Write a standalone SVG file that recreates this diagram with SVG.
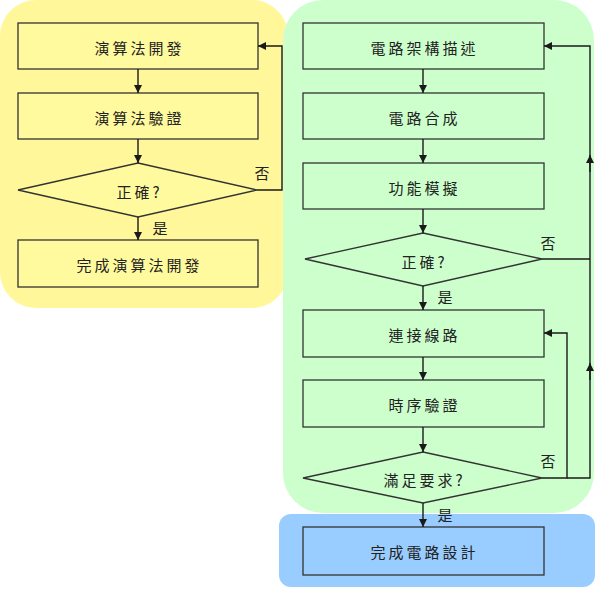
<svg xmlns="http://www.w3.org/2000/svg" width="600" height="589" viewBox="0 0 600 589">
<defs>
<marker id="arr" viewBox="0 0 10 10" refX="10" refY="5" markerWidth="8" markerHeight="8" markerUnits="userSpaceOnUse" orient="auto">
<path d="M0,0 L10,5 L0,10 z" fill="#1a1a1a"/>
</marker>
<style>
.box{stroke:#333;stroke-width:1.3}
.y{fill:#FFFA9E}
.g{fill:#CCFFCC}
.b{fill:#99CCFF}
.t{font-family:"Noto Sans CJK TC","Noto Sans CJK SC",sans-serif;font-size:15px;letter-spacing:3px;fill:#222;text-anchor:middle;dominant-baseline:central}
.c{fill:none;stroke:#1a1a1a;stroke-width:1.4}
.a{marker-end:url(#arr)}
</style>
</defs>
<rect x="0" y="0" width="600" height="589" fill="#fff"/>
<g id="regions">
<rect x="0" y="0" width="288" height="308" rx="36" ry="36" fill="#FFF79A"/>
<rect x="283" y="0" width="311" height="513" rx="40" ry="40" fill="#CCFFCC"/>
<rect x="279" y="514" width="316" height="73" rx="12" ry="12" fill="#99CCFF"/>
</g>
<g id="n1"><rect class="box y" x="18" y="23" width="240" height="46"/><text class="t" x="139.5" y="47">演算法開發</text></g>
<g id="n2"><rect class="box y" x="18" y="93" width="240" height="46"/><text class="t" x="139.5" y="117">演算法驗證</text></g>
<g id="n3"><polygon class="box y" points="138,163 257,190 138,217 18,190"/><text class="t" x="139.5" y="191">正確?</text></g>
<g id="n4"><rect class="box y" x="18" y="240" width="240" height="47"/><text class="t" x="139.5" y="264">完成演算法開發</text></g>
<g id="m1"><rect class="box g" x="303" y="23" width="241" height="46"/><text class="t" x="424.5" y="47">電路架構描述</text></g>
<g id="m2"><rect class="box g" x="303" y="93" width="241" height="46"/><text class="t" x="424.5" y="117">電路合成</text></g>
<g id="m3"><rect class="box g" x="303" y="163" width="241" height="46"/><text class="t" x="424.5" y="187">功能模擬</text></g>
<g id="m4"><polygon class="box g" points="423,233 542,259 423,286 305,259"/><text class="t" x="424.5" y="261">正確?</text></g>
<g id="m5"><rect class="box g" x="303" y="310" width="241" height="47"/><text class="t" x="424.5" y="334">連接線路</text></g>
<g id="m6"><rect class="box g" x="303" y="380" width="241" height="47"/><text class="t" x="424.5" y="404">時序驗證</text></g>
<g id="m7"><polygon class="box g" points="423,452 542,478 423,503 303,478"/><text class="t" x="424.5" y="479">滿足要求?</text></g>
<g id="m8"><rect class="box b" x="303" y="527" width="241" height="48"/><text class="t" x="424.5" y="551">完成電路設計</text></g>
<g id="connectors">
<line class="c a" x1="138" y1="69" x2="138" y2="93"/>
<line class="c a" x1="138" y1="139" x2="138" y2="163"/>
<line class="c a" x1="138" y1="217" x2="138" y2="240"/>
<polyline class="c a" points="257,190 282,190 282,46 258,46"/>
<line class="c a" x1="423" y1="69" x2="423" y2="93"/>
<line class="c a" x1="423" y1="139" x2="423" y2="163"/>
<line class="c a" x1="423" y1="209" x2="423" y2="233"/>
<line class="c a" x1="423" y1="286" x2="423" y2="310"/>
<line class="c a" x1="423" y1="357" x2="423" y2="380"/>
<line class="c a" x1="423" y1="427" x2="423" y2="452"/>
<line class="c a" x1="423" y1="503" x2="423" y2="527"/>
<polyline class="c a" points="542,478 567,478 567,333 544,333"/>
<polyline class="c" points="567,478 590,478 590,364"/>
<line class="c a" x1="590" y1="380" x2="590" y2="363"/>
<line class="c" x1="590" y1="364" x2="590" y2="156"/>
<line class="c a" x1="590" y1="172" x2="590" y2="155"/>
<polyline class="c a" points="590,156 590,46 544,46"/>
<line class="c" x1="542" y1="259" x2="590" y2="259"/>
</g>
<g id="labels">
<text class="t" x="263.5" y="172">否</text>
<text class="t" x="161.5" y="227">是</text>
<text class="t" x="549.5" y="242">否</text>
<text class="t" x="446.5" y="296">是</text>
<text class="t" x="549.5" y="460">否</text>
<text class="t" x="446.5" y="514">是</text>
</g>
</svg>
